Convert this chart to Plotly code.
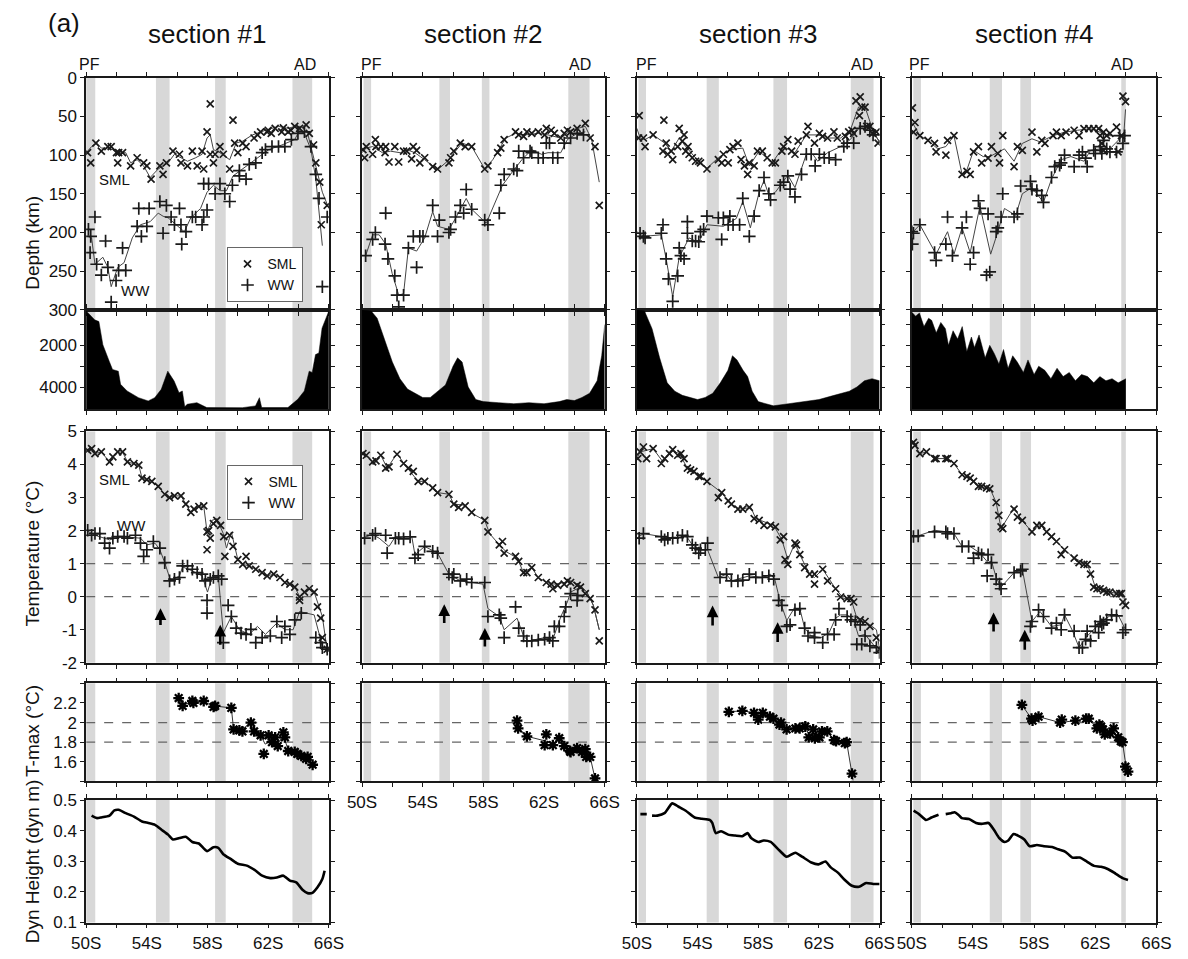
import plotly.graph_objects as go

# ---------------- axis ticks / labels ----------------
LAT_TICKS = [50, 52, 54, 56, 58, 60, 62, 64, 66]
LAT_LABELS = ['50S', '', '54S', '', '58S', '', '62S', '', '66S']
DEPTH_TICKS = [0, 50, 100, 150, 200, 250, 300]
BATHY_TICKS = [1000, 2000, 3000, 4000]
BATHY_LABELS = ['', '2000', '', '4000']
TEMP_TICKS = [-2, -1, 0, 1, 2, 3, 4, 5]
TMAX_TICKS = [1.4, 1.6, 1.8, 2.0, 2.2, 2.4]
TMAX_LABELS = ['', '1.6', '1.8', '2', '2.2', '']
DYN_TICKS = [0.1, 0.2, 0.3, 0.4, 0.5]
TEMP_REF = [0, 1]
TMAX_REF = [1.8, 2.0]
SECTION_TITLES = ['section #1', 'section #2', 'section #3', 'section #4']
ROW_TITLES = ['Depth (km)', 'Temperature (°C)', 'T-max (°C)', 'Dyn Height (dyn m)']

# ---------------- section 1 ----------------
s1_bands = [(50.0, 50.6), (54.6, 55.5), (58.5, 59.2), (63.6, 64.9)]
s1_pf_lat, s1_ad_lat = 50.25, 64.4
s1_sml_lat = [50.09,50.3,50.64,51.0,51.43,51.65,52.0,52.14,52.4,52.08,52.93,53.36,53.79,54.0,54.28,54.86,55.07,55.29,55.72,56.15,56.25,56.68,57.0,57.32,57.64,57.75,57.97,58.18,58.18,58.39,58.5,58.82,59.04,59.46,59.68,59.79,60.0,60.32,60.54,61.07,61.5,61.93,62.46,62.89,63.32,63.75,64.07,64.5,64.71,64.99,65.14,65.4,65.5,65.89,61.3,62.0,62.2,63.0,63.5]
s1_sml_depth = [97,110,84.5,95,89,89,97,97,97,110,114,103.5,110,114,131,114,125,110,95,99,110,114,95,114,95,118,70,34,99,110,99,89,99,118,55,84.5,97,84.5,89,78,70,70,65.5,70,70,63,65.5,61,72,87,110,135,190,165,74,68,72,65,68]
s1_sml_fit_lat = [50.0,50.36,50.69,51.0,51.43,51.76,52.18,52.61,52.93,53.36,53.79,54.22,54.75,55.4,55.82,56.25,56.68,57.22,57.64,57.97,58.18,58.39,58.82,59.46,59.89,60.32,60.96,61.82,62.68,63.32,63.75,64.18,64.6,65.03,65.57,66.0]
s1_sml_fit_depth = [97,89,84.5,91,91,93,97,97,110,106,114,129,118,110,99,103.5,108,103.5,99,78,74,93,97,106,84.5,82,74,68,63,65.5,63,63,72,106,148,169]
s1_ww_lat = [50.15,50.3,50.58,50.26,50.69,51.28,51.0,51.43,51.65,51.97,52.14,52.4,52.61,53.47,53.64,53.36,54.0,54.15,54.86,55.29,55.07,55.6,55.82,56.25,56.15,56.3,56.58,57.0,57.22,57.64,57.75,57.97,57.75,58.07,58.5,58.82,59.14,59.46,59.64,60.1,60.1,60.54,60.75,61.18,61.6,61.82,62.25,62.68,63.1,63.53,63.96,64.39,64.82,65.14,65.35,65.57,65.89]
s1_ww_depth = [196,205,180,226,241,211,255,245,290,262,249,220,249,169,205,192,192,169,160,165,201,180,190,190,169,215,199,180,180,190,180,171,137,137,150,137,150,160,139,127,120,131,112,110,97,93,89,89,89,80,72,70,89,125,156,270,180]
s1_ww_fit_lat = [50.09,50.36,50.58,51.1,51.43,51.65,52.08,52.5,53.04,53.58,54.22,54.75,55.07,55.4,55.93,56.47,56.9,57.54,57.97,58.39,58.82,59.25,59.68,60.32,61.18,62.04,62.9,63.75,64.07,64.39,64.82,65.14,65.57]
s1_ww_fit_depth = [205,207,241,232,245,270,245,239,207,190,186,175,179,181,190,199,181,169,148,139,146,146,127,118,106,93,87,80,68,72,93,131,217]
s1_bathy_lat = [50.0,50.56,50.84,51.1,51.52,51.74,52.12,52.27,52.7,53.45,54.09,54.52,54.95,55.38,55.8,56.12,56.34,56.5,56.66,57.3,57.95,60.3,61.16,61.42,61.57,63.3,63.95,64.38,64.7,64.9,65.12,65.34,65.55,65.87,66.0]
s1_bathy_depth = [350,776,857,1968,2762,3160,3238,3871,4190,4510,4667,4510,4111,3238,3714,4270,4190,4950,4825,4750,4985,4990,4905,4510,4985,4985,4587,4190,3238,3300,2444,2365,1175,540,350]
s1_tsml_lat = [50.1,50.36,50.58,51.0,51.54,51.76,52.08,52.4,52.72,53.15,53.47,53.68,54.0,54.33,54.75,55.18,55.5,55.82,56.25,56.57,56.9,57.11,57.43,57.75,57.97,58.07,58.39,58.61,58.86,59.07,59.46,59.68,60.0,60.32,60.75,61.18,61.6,61.93,62.36,62.78,63.1,63.43,63.75,64.07,64.39,64.71,65.03,65.25,65.46,65.57,65.89,57.97,58.18,59.14,60.54,64.07]
s1_tsml_temp = [4.43,4.48,4.33,4.38,4.08,4.23,4.38,4.38,4.08,4.03,3.98,3.59,3.54,3.49,3.34,3.1,3.0,3.05,3.05,2.8,2.55,2.65,2.73,2.75,1.96,2.0,2.21,2.31,2.16,1.82,1.86,1.52,1.12,0.98,0.93,0.83,0.73,0.63,0.68,0.58,0.43,0.38,0.29,-0.01,0.14,0.24,0.14,-0.31,-0.65,-1.24,-1.59,1.42,1.77,1.22,1.22,-0.11]
s1_tsml_fit_lat = [50.0,50.36,50.58,51.0,51.54,51.76,52.08,52.4,52.72,53.15,53.47,53.68,54.0,54.33,54.75,55.18,55.5,55.82,56.25,56.57,56.9,57.11,57.43,57.75,57.97,58.29,58.61,59.04,59.25,59.57,60.0,60.32,60.75,61.18,61.6,61.93,62.36,62.78,63.1,63.43,63.75,64.07,64.39,64.71,65.03,65.57,65.89]
s1_tsml_fit_temp = [4.43,4.48,4.33,4.38,4.08,4.23,4.38,4.38,4.08,4.03,3.98,3.59,3.54,3.49,3.34,3.1,3.0,3.05,3.05,2.8,2.55,2.65,2.73,2.75,1.96,2.31,2.36,1.91,1.47,1.96,1.12,0.98,0.93,0.83,0.73,0.63,0.68,0.58,0.43,0.38,0.29,0.01,0.14,0.24,0.14,-0.6,-1.64]
s1_tww_lat = [50.1,50.36,50.58,50.9,51.22,51.54,51.76,52.08,52.5,52.72,53.25,53.58,53.79,54.0,54.43,54.86,55.18,55.5,55.82,56.15,56.36,56.68,57.0,57.32,57.64,57.86,57.97,57.97,58.18,58.39,58.71,58.93,59.04,59.36,59.57,59.89,60.21,60.54,60.86,61.18,61.6,62.14,62.57,62.89,63.1,63.43,63.75,64.18,65.14,65.46,65.57,65.89]
s1_tww_temp = [2.01,1.86,1.91,1.91,1.62,1.47,1.77,1.82,1.82,1.77,1.86,1.62,1.22,1.42,1.67,1.47,1.03,0.48,0.53,0.58,0.93,0.93,0.83,0.73,0.68,0.48,-0.11,-0.5,0.53,0.58,0.63,0.53,-1.39,-0.26,-0.6,-0.95,-1.1,-1.14,-0.99,-1.39,-1.24,-1.19,-0.75,-1.24,-0.9,-1.14,-0.7,-0.5,-1.24,-1.39,-1.54,-1.59]
s1_tww_fit_lat = [50.0,50.58,51.54,52.4,53.58,54.0,54.54,54.86,55.18,55.57,56.15,56.36,57.0,57.64,58.0,58.29,58.71,59.04,59.57,60.1,60.75,61.29,61.82,62.57,63.1,63.64,64.07,65.03,65.57,65.89]
s1_tww_fit_temp = [2.01,1.86,1.72,1.82,1.77,1.57,1.62,1.42,1.03,0.48,0.63,0.9,0.78,0.63,0.14,0.58,0.63,-1.09,-0.6,-1.0,-1.14,-0.9,-1.14,-0.8,-1.0,-1.0,-0.45,-0.55,-1.5,-1.7]
s1_arrow_lat = [54.9, 58.84]
s1_arrow_base = [-0.9, -1.5]
s1_arrow_tip = [-0.35, -0.85]
s1_tmax_lat = [56.1,56.36,57.0,57.07,57.75,58.4,58.5,59.57,59.72,60.1,60.3,60.86,61.07,61.5,61.71,62.03,62.25,62.46,62.63,63.0,63.1,63.32,63.75,63.92,64.18,64.5,64.6,64.93]
s1_tmax_val = [2.25,2.17,2.22,2.2,2.22,2.16,2.17,2.15,1.93,1.92,1.91,2.0,1.91,1.87,1.68,1.87,1.8,1.85,1.76,1.9,1.85,1.71,1.7,1.68,1.66,1.63,1.65,1.57]
s1_tmax_fit_lat = [56.1,56.36,57.0,57.75,58.4,59.57,59.72,60.1,60.86,61.07,61.5,61.8,62.25,62.63,63.0,63.32,63.75,64.18,64.6,64.93]
s1_tmax_fit_val = [2.25,2.18,2.21,2.21,2.17,2.15,1.93,1.92,1.99,1.91,1.87,1.78,1.82,1.78,1.87,1.72,1.70,1.66,1.64,1.57]
s1_dyn_lat = [50.36,50.69,51.0,51.54,51.86,52.14,52.61,53.15,53.68,54.1,54.54,54.97,55.4,55.72,56.15,56.57,57.0,57.43,57.97,58.39,58.71,59.04,59.57,60.0,60.64,61.18,61.6,62.14,62.57,63.0,63.43,63.85,64.28,64.6,64.92,65.25,65.57,65.72]
s1_dyn_val = [0.449,0.441,0.443,0.449,0.466,0.468,0.457,0.446,0.43,0.425,0.419,0.403,0.387,0.371,0.376,0.38,0.363,0.358,0.333,0.346,0.344,0.323,0.306,0.292,0.285,0.269,0.253,0.245,0.247,0.253,0.237,0.231,0.206,0.196,0.197,0.215,0.242,0.269]

# ---------------- section 2 ----------------
s2_bands = [(50.1, 50.6), (55.1, 55.8), (57.9, 58.4), (63.6, 65.0)]
s2_pf_lat, s2_ad_lat = 50.6, 64.4
s2_sml_lat = [50.06,50.17,50.28,50.7,50.88,50.92,51.24,51.56,51.52,51.78,52.16,52.42,52.74,52.95,53.27,53.38,53.6,53.81,54.13,54.66,54.98,55.73,55.84,56.05,56.48,56.8,57.23,58.09,58.3,58.94,59.15,59.37,60.12,60.33,60.65,60.87,61.19,61.62,62.15,62.47,62.68,62.04,63.1,63.33,63.54,63.75,64.18,64.72,65.04,65.36,65.64]
s2_sml_depth = [93,103.5,89,99,80,89,89,89,97,109,89,109,95,95,105,89,94,110,103.5,115,118,110,103.5,95,84.5,89,89,118,114,97,91,80,70,74,76,70,72,70,65.5,68,72,74,78,72,68,70,65.5,59,78,89,165]
s2_sml_fit_lat = [50.0,50.28,50.7,51.35,51.88,52.52,52.95,53.49,54.13,54.98,55.63,56.59,57.23,58.09,58.62,59.48,60.12,60.76,61.62,62.26,63.1,63.75,64.72,65.14,65.64]
s2_sml_fit_depth = [97,91,89,97,95,97,93,97,106,119,108,84.5,89,118,106,78,72,74,72,74,78,68,63,80,135]
s2_ww_lat = [50.24,50.7,50.88,51.56,51.52,51.71,52.16,52.31,52.74,52.42,53.06,53.38,53.6,53.81,54.02,54.66,54.98,55.09,55.73,55.84,56.16,56.48,56.7,56.87,57.23,58.09,58.3,59.05,59.15,59.37,60.0,60.22,60.65,60.33,61.08,61.19,61.62,61.94,62.15,62.36,62.58,62.9,63.33,63.75,64.18,64.6]
s2_ww_depth = [230,209,200,175,215,234,256,281,281,296,220,205,245,205,205,165,205,184,200,196,180,165,175,144.5,170,184,190,175,139,125,118,120,103.5,95,95,97,103.5,103.5,84.5,84.5,103.5,103.5,84.5,78,72,74]
s2_ww_fit_lat = [50.24,50.7,51.13,51.56,51.99,52.42,52.74,53.06,53.6,54.13,54.66,54.98,55.73,56.16,56.87,57.23,58.19,58.83,59.26,59.9,60.54,61.19,61.83,62.26,62.58,63.1,63.54,64.18,64.72]
s2_ww_fit_depth = [230,203,203,215,253,281,279,220,224,207,173,192,196,182,156,170,188,160,139,122,106,93,99,97,97,97,80,72,70]
s2_bathy_lat = [50.0,50.6,51.0,51.5,52.0,52.5,53.0,53.5,54.0,54.5,55.0,55.5,56.0,56.3,56.6,57.0,57.5,58.0,59.0,60.0,61.0,62.0,63.0,63.5,64.0,64.5,65.0,65.5,65.8,66.0]
s2_bathy_depth = [300,350,700,1700,2800,3600,4100,4300,4500,4500,4200,3900,3000,2600,2800,4000,4600,4700,4750,4800,4750,4800,4700,4600,4650,4500,4300,3700,2500,1000]
s2_tsml_lat = [50.06,50.28,50.7,50.92,51.24,51.56,51.78,52.31,52.74,53.06,53.38,53.7,54.13,54.66,54.98,55.73,56.05,56.37,56.8,57.23,58.09,58.3,59.05,59.26,59.37,60.12,60.33,60.65,60.87,61.19,61.62,62.15,62.47,62.58,62.9,63.33,63.54,63.75,64.18,64.4,64.72,65.04,65.36,65.64]
s2_tsml_temp = [4.33,4.28,4.08,4.11,4.28,3.89,3.93,4.31,4.03,3.89,3.79,3.49,3.49,3.29,3.15,3.1,2.8,2.7,2.75,2.55,2.31,1.96,1.57,1.67,1.32,1.22,1.07,0.73,0.73,0.88,0.58,0.43,0.38,0.24,0.34,0.38,0.48,0.43,0.34,0.29,0.09,-0.06,-0.4,-1.34]
s2_tsml_fit_lat = [50.0,50.28,50.7,51.24,51.66,52.31,52.84,53.7,54.13,54.98,55.73,56.05,56.8,57.34,58.09,58.41,59.05,59.48,60.22,60.65,61.19,61.62,62.15,62.68,63.33,63.75,64.4,64.82,65.25,65.64]
s2_tsml_fit_temp = [4.33,4.28,4.08,4.28,3.89,4.33,3.98,3.49,3.49,3.15,3.1,2.8,2.77,2.5,2.31,1.91,1.57,1.37,1.17,0.73,0.88,0.58,0.43,0.38,0.43,0.48,0.34,0.14,-0.26,-1.0]
s2_tww_lat = [50.17,50.7,50.88,51.56,51.66,52.2,52.42,52.74,53.17,53.49,53.7,54.13,54.66,54.98,55.73,55.95,56.05,56.48,56.9,57.23,58.09,58.3,59.05,59.15,59.37,60.12,60.33,60.65,60.87,61.19,61.62,62.04,62.36,62.58,62.68,63.0,63.33,63.43,63.75,64.18,64.22]
s2_tww_temp = [1.77,1.86,1.91,1.86,1.32,1.77,1.77,1.75,1.81,1.17,1.27,1.52,1.37,1.32,0.68,0.58,0.68,0.48,0.53,0.43,0.43,-0.6,-0.55,-0.65,-1.24,-0.31,-0.95,-1.19,-1.34,-1.34,-1.31,-1.29,-1.24,-1.34,-0.9,-0.9,-0.6,-0.31,0.09,-0.11,0.04]
s2_tww_fit_lat = [50.0,50.7,51.13,51.78,52.2,53.28,53.49,54.13,54.98,55.73,56.48,57.34,57.98,58.3,59.05,59.37,60.22,60.65,60.97,62.04,62.58,63.11,63.54,63.75,64.4,64.82,65.25,65.64]
s2_tww_fit_temp = [1.77,1.88,1.77,1.52,1.82,1.82,1.27,1.52,1.32,0.68,0.48,0.43,0.38,-0.36,-0.6,-1.0,-0.65,-1.19,-1.34,-1.24,-1.29,-0.6,-0.16,0.14,0.29,0.14,-0.26,-1.0]
s2_arrow_lat = [55.42, 58.1]
s2_arrow_base = [-0.84, -1.55]
s2_arrow_tip = [-0.23, -0.95]
s2_tmax_lat = [60.22,60.29,60.87,62.04,62.15,62.58,63.0,63.33,63.71,63.75,64.18,64.5,64.72,64.78,65.04,65.36]
s2_tmax_val = [2.02,1.94,1.86,1.77,1.88,1.77,1.84,1.76,1.71,1.70,1.74,1.70,1.73,1.65,1.65,1.43]
s2_tmax_fit_lat = [60.22,60.29,60.87,62.15,62.58,63.0,63.33,63.75,64.18,64.5,64.72,65.04,65.36]
s2_tmax_fit_val = [2.02,1.94,1.86,1.81,1.78,1.84,1.76,1.70,1.73,1.70,1.72,1.65,1.43]
s2_dyn_lat = []
s2_dyn_val = []

# ---------------- section 3 ----------------
s3_bands = [(50.1, 50.6), (54.6, 55.4), (59.0, 59.9), (64.1, 65.6)]
s3_pf_lat, s3_ad_lat = 50.63, 64.85
s3_sml_lat = [50.15,50.11,50.43,50.54,51.07,51.78,51.72,51.93,52.04,52.26,52.36,52.69,52.79,53.0,53.11,53.22,53.37,53.44,53.65,53.87,54.08,54.19,54.62,55.37,55.59,55.7,56.02,56.13,56.34,56.66,56.87,57.09,57.3,57.41,57.73,57.95,58.27,58.59,58.92,59.13,59.56,59.67,59.95,60.2,60.42,60.63,61.17,61.28,61.71,62.03,62.24,62.57,62.99,63.21,63.75,63.96,64.18,64.29,64.44,64.72,64.67,64.82,65.04,65.15,65.36,65.53,65.79,65.9]
s3_sml_depth = [49,78,78,89,74,55,95,84.5,99,95,106,89,65.5,82,74,95,89,99,103.5,108,108,110,118,106,110,99,110,93,89,84.5,106,114,125,110,114,95,95,103.5,110,110,95,89,80,95,99,82,74,63,84.5,72,76,78,70,78,76,70,68,72,30,25,49,38,38,63,63,72,70,84.5]
s3_sml_fit_lat = [50.0,50.21,50.54,51.07,51.83,52.26,52.79,53.22,53.97,54.62,55.37,56.13,56.98,57.41,58.06,58.92,59.67,60.42,61.17,61.92,62.67,63.43,64.07,64.61,65.04,65.47,66.0]
s3_sml_fit_depth = [65.5,78,80,74,84.5,95,78,89,106,117,103.5,93,91,114,95,110,89,97,74,74,78,78,68,38,38,63,84.5]
s3_ww_lat = [50.21,50.43,50.54,51.72,51.61,51.93,52.08,52.36,52.69,52.79,52.9,53.11,53.33,53.33,53.65,53.87,54.08,54.19,54.4,54.62,55.37,55.59,55.7,56.13,56.02,56.34,56.77,56.98,57.41,57.73,58.06,58.38,58.7,58.81,59.45,59.67,59.95,60.1,60.42,60.85,61.17,61.49,61.75,62.03,62.35,62.67,63.1,63.64,63.86,64.29,64.72,65.04,65.36,65.57]
s3_ww_depth = [201,205,207,190,201,234,260,289,256,220,230,234,186,201,211,211,212,199,196,179,181,209,181,179,190,190,190,156,205,179,146,129,150,158,139,135,127,144,154,125,99,99,114,99,103.5,103.5,106,89,84.5,84.5,65.5,63,68,74]
s3_ww_fit_lat = [50.0,50.43,51.61,51.93,52.36,52.79,53.44,54.08,54.62,55.7,56.55,56.98,57.48,58.06,58.38,58.7,59.13,59.95,60.42,61.17,61.6,61.92,62.57,63.43,64.07,64.72,65.15,65.58,66.0]
s3_ww_fit_depth = [199,205,203,234,283,232,207,213,190,192,182,160,194,148,133,152,148,126,142,99,99,108,97,89,80,63,63,72,82]
s3_bathy_lat = [50.0,50.5,51.0,51.5,52.0,52.5,53.0,53.5,54.0,54.5,55.0,55.5,56.0,56.3,56.6,57.0,57.3,57.6,58.0,58.5,59.0,60.0,61.0,62.0,63.0,64.0,64.5,65.0,65.5,66.0]
s3_bathy_depth = [300,350,1200,2600,3800,4200,4400,4500,4600,4500,4300,3800,3200,2500,2700,3200,3500,4200,4700,4800,4900,4800,4700,4600,4400,4200,4000,3700,3600,3700]
s3_tsml_lat = [50.06,50.21,50.43,50.64,51.07,51.61,51.83,52.15,52.36,52.69,52.9,53.11,53.33,53.54,53.76,54.08,54.19,54.62,55.37,55.59,56.02,56.23,56.66,56.98,57.41,57.73,58.06,58.38,58.81,59.13,59.45,59.67,59.77,59.95,60.42,60.52,60.74,61.06,61.39,61.71,61.71,62.25,62.57,63.1,63.43,63.86,64.11,64.29,64.72,65.04,65.36,65.79,66.0]
s3_tsml_temp = [4.18,4.38,4.53,4.18,4.48,4.03,4.18,4.33,4.45,4.28,4.33,4.18,3.89,3.84,3.79,3.64,3.64,3.49,3.0,3.15,2.9,2.8,2.65,2.65,2.7,2.36,2.31,2.16,2.16,2.11,1.72,1.82,1.12,0.98,1.62,1.57,1.27,0.88,0.68,0.68,0.38,0.83,0.48,0.24,-0.01,-0.06,-0.06,-0.16,-0.7,-0.75,-0.9,-1.24,-1.59]
s3_tsml_fit_lat = [50.0,50.21,51.07,51.72,52.26,52.79,53.33,54.19,54.62,55.59,56.23,56.77,57.52,57.84,59.02,59.56,59.95,60.42,60.85,61.39,61.71,62.25,63.1,63.64,64.11,64.5,65.36,65.79,66.0]
s3_tsml_fit_temp = [4.18,4.38,4.48,4.08,4.43,4.33,3.89,3.64,3.49,3.15,2.8,2.65,2.7,2.36,2.16,1.72,1.12,1.62,1.17,0.68,0.58,0.83,0.24,-0.06,-0.06,-0.65,-0.85,-1.0,-1.59]
s3_tww_lat = [50.15,50.43,51.61,51.83,52.04,52.36,52.69,53.0,53.33,53.65,53.87,54.08,54.19,54.51,54.66,55.48,55.91,56.23,56.66,56.98,57.41,57.84,58.27,58.7,59.02,59.34,59.56,59.88,60.1,60.42,60.74,61.06,61.28,61.71,61.71,62.25,62.57,63.0,63.1,63.32,63.86,64.11,64.4,64.72,64.5,64.82,65.04,65.36,65.79,66.0]
s3_tww_temp = [1.77,1.91,1.82,1.72,1.77,1.77,1.79,1.86,1.82,1.57,1.47,1.32,1.42,1.42,1.62,0.58,0.68,0.48,0.48,0.5,0.68,0.58,0.58,0.63,0.53,-0.11,-0.26,-0.9,-0.85,-0.4,-0.36,-0.95,-1.19,-1.09,-1.24,-1.39,-1.14,-1.14,-0.7,-0.36,-0.6,-0.7,-0.75,-0.85,-1.44,-1.44,-1.19,-1.49,-1.54,-1.69]
s3_tww_fit_lat = [50.0,50.43,51.61,52.58,53.22,53.65,54.19,54.66,55.37,55.91,56.23,57.41,58.27,58.81,59.09,59.45,59.88,60.31,60.74,61.06,61.49,62.14,62.67,63.1,63.43,63.86,64.29,64.61,65.04,65.47,66.0]
s3_tww_fit_temp = [1.77,1.91,1.82,1.77,1.86,1.57,1.42,1.42,0.58,0.68,0.48,0.63,0.58,0.68,0.53,-0.16,-0.72,-0.4,-0.36,-0.95,-1.19,-1.24,-1.09,-0.65,-0.55,-0.55,-0.7,-1.19,-1.14,-1.39,-1.69]
s3_arrow_lat = [54.99, 59.28]
s3_arrow_base = [-0.92, -1.42]
s3_arrow_tip = [-0.27, -0.77]
s3_tmax_lat = [56.06,56.95,57.72,58.0,58.3,58.77,59.0,59.4,59.5,59.87,60.45,60.73,61.1,61.33,61.62,61.73,62.03,62.2,62.55,63.0,63.13,63.71,63.83,64.18]
s3_tmax_val = [2.11,2.12,2.1,2.03,2.1,2.06,2.04,1.98,2.0,1.93,1.94,1.94,1.96,1.85,1.93,1.84,1.85,1.91,1.91,1.82,1.81,1.79,1.8,1.48]
s3_tmax_fit_lat = [56.06,56.95,57.72,58.1,58.77,59.4,59.87,60.73,61.1,61.33,61.73,62.2,62.55,63.0,63.83,64.25]
s3_tmax_fit_val = [2.11,2.12,2.1,2.07,2.06,1.98,1.93,1.94,1.96,1.88,1.87,1.91,1.91,1.82,1.8,1.41]
s3_dyn_lat = [50.23,50.65,None,51.0,51.35,51.82,52.33,52.75,53.22,53.8,54.27,54.8,54.97,55.2,55.55,56.02,56.48,56.95,57.3,57.53,58.0,58.35,58.82,59.4,59.87,60.45,60.92,61.5,61.97,62.43,62.78,63.25,63.71,64.18,64.65,65.11,65.58,66.0]
s3_dyn_val = [0.454,0.454,None,0.449,0.449,0.457,0.489,0.478,0.465,0.443,0.439,0.435,0.425,0.392,0.398,0.387,0.384,0.382,0.392,0.376,0.363,0.368,0.363,0.335,0.315,0.328,0.314,0.296,0.29,0.299,0.28,0.263,0.239,0.22,0.217,0.229,0.226,0.226]

# ---------------- section 4 ----------------
s4_bands = [(50.1, 50.6), (55.1, 55.9), (57.1, 57.8), (63.7, 64.0)]
s4_pf_lat, s4_ad_lat = 50.5, 63.77
s4_sml_lat = [50.04,50.21,50.11,50.53,51.06,51.49,51.59,52.23,52.34,52.76,53.29,53.61,53.82,54.04,54.36,54.57,54.99,55.21,55.63,55.74,55.95,56.69,56.91,57.23,57.86,58.18,58.5,58.71,59.24,59.46,59.77,60.09,60.62,60.94,61.26,61.58,61.9,62.22,62.32,62.54,62.75,62.43,62.54,62.96,63.39,63.49,63.71,63.81,63.98]
s4_sml_depth = [39,58,70.5,75,81,85,96,100,81,75,125,121,125,96,89,110,104,89,98,110,75,115,89,94,70.5,96,81,85,75,70.5,75,70.5,68,75,66,66,66,66,75,70.5,75,85,94,72,64,96,75,24,31]
s4_sml_fit_lat = [50.04,50.53,51.06,51.7,52.23,52.76,53.29,53.61,54.04,54.67,55.1,55.52,56.06,56.69,57.23,57.86,58.39,59.24,59.99,60.83,61.69,62.32,62.75,63.39,63.86,63.98]
s4_sml_fit_depth = [58,75,81,92,89,75,125,119,94,102,102,98,92,108,85,79,83,75,70.5,68,66,70.5,75,75,75,41]
s4_ww_lat = [50.0,50.11,50.04,50.53,51.49,51.59,52.34,52.23,52.66,53.29,53.57,53.82,54.04,54.36,54.46,54.99,54.89,55.1,55.52,55.63,55.84,55.95,56.69,56.91,57.12,57.76,57.86,58.18,58.5,58.61,59.14,59.35,59.67,59.77,59.99,60.62,60.94,61.16,61.37,61.47,61.9,62.0,62.32,62.43,62.54,62.75,62.96,63.39,63.6,63.81,63.92]
s4_ww_depth = [199,201,215,190,226,236,180,215,230,194,180,241,226,159,169,176,255,251,199,194,180,150,180,176,140,134,144,146,152,161,129,115,113,110,100,115,100,96,104,115,94,98,89,98,81,92,96,96,75,85,75]
s4_ww_fit_lat = [50.0,50.53,51.59,52.34,52.76,53.29,53.82,54.46,55.16,55.63,56.06,56.8,57.23,57.86,58.61,59.14,59.77,60.41,61.26,61.69,62.32,62.96,63.6,63.86]
s4_ww_fit_depth = [201,190,228,199,228,194,226,166,228,199,169,178,150,142,161,131,106,102,108,94,92,92,79,75]
s4_bathy_lat = [50.0,50.25,50.5,50.8,51.1,51.3,51.6,51.9,52.2,52.4,52.7,53.0,53.3,53.6,53.9,54.1,54.4,54.8,55.1,55.4,55.7,56.0,56.3,56.6,56.9,57.3,57.6,58.0,58.3,58.7,59.1,59.5,59.9,60.3,60.7,61.1,61.5,61.9,62.3,62.7,63.1,63.5,64.0]
s4_bathy_depth = [400,600,450,1100,700,800,1400,900,1200,2000,1300,1700,1100,2300,1600,2100,1500,2600,2000,2400,2900,2200,3100,2500,2800,3300,2700,3400,3000,3200,3600,3100,3500,3300,3700,3400,3500,3800,3500,3700,3600,3800,3600]
s4_tsml_lat = [50.11,50.21,50.53,50.96,51.49,51.59,52.23,52.34,52.76,53.29,53.61,53.82,54.04,54.36,54.57,54.89,55.1,55.52,55.69,55.84,55.95,56.69,56.91,57.23,57.86,58.18,58.5,58.82,59.14,59.46,59.77,59.99,60.62,60.94,61.26,61.47,61.69,61.9,62.11,62.32,62.54,62.75,62.96,63.39,63.6,63.71,63.81,63.98]
s4_tsml_temp = [4.67,4.58,4.33,4.38,4.18,4.18,4.18,4.18,4.03,3.69,3.64,3.59,3.49,3.34,3.34,3.29,3.26,2.85,2.46,2.11,2.06,2.65,2.41,2.31,1.96,2.16,2.16,1.96,1.82,1.67,1.27,1.42,1.17,1.03,0.98,0.98,0.68,0.29,0.24,0.24,0.19,0.14,0.14,0.09,0.09,0.09,-0.16,-0.26]
s4_tsml_fit_lat = [50.0,50.21,50.53,50.96,51.49,52.34,52.76,53.29,54.04,54.36,55.1,55.52,55.84,56.69,57.12,57.86,58.39,58.82,59.46,59.99,60.62,61.47,61.69,62.0,63.39,63.81,63.98]
s4_tsml_fit_temp = [4.67,4.58,4.33,4.38,4.18,4.18,4.03,3.69,3.49,3.34,3.29,2.85,2.06,2.7,2.36,1.96,2.18,1.96,1.67,1.42,1.17,0.98,0.73,0.29,0.09,0.09,-0.21]
s4_tww_lat = [50.11,50.42,51.49,52.23,52.34,52.76,53.29,53.72,54.04,54.36,54.57,54.99,54.93,55.21,55.52,55.74,55.84,56.69,57.12,57.23,57.76,57.86,58.29,58.61,59.14,59.46,59.77,59.99,60.62,60.94,61.16,61.37,61.47,61.69,62.0,62.22,62.32,62.43,62.54,62.75,63.07,63.39,63.81,63.98]
s4_tww_temp = [1.82,1.84,1.96,1.96,1.91,1.91,1.52,1.52,1.17,1.32,1.27,1.27,0.63,1.03,0.53,0.38,0.24,0.73,0.78,0.83,-0.9,-0.75,-0.4,-0.6,-0.95,-0.8,-1.0,-0.55,-1.04,-1.54,-1.54,-1.29,-1.04,-1.34,-0.9,-1.09,-0.75,-0.85,-0.8,-0.7,-0.55,-0.58,-1.09,-1.0]
s4_tww_fit_lat = [50.0,50.53,51.49,52.34,52.76,53.29,53.82,54.46,54.99,55.21,55.52,55.84,56.69,57.23,57.86,58.39,59.14,59.77,59.99,60.52,60.94,61.47,62.0,62.54,63.07,63.49,63.98]
s4_tww_fit_temp = [1.82,1.86,2.01,1.96,1.91,1.52,1.52,1.32,1.03,1.08,0.58,0.29,0.73,0.83,-0.75,-0.45,-0.9,-0.85,-0.55,-1.04,-1.54,-1.19,-0.95,-0.7,-0.55,-0.55,-1.0]
s4_arrow_lat = [55.35, 57.39]
s4_arrow_base = [-1.1, -1.65]
s4_arrow_tip = [-0.48, -1.0]
s4_tmax_lat = [57.2,57.83,57.9,58.29,59.7,59.81,60.7,61.4,61.57,62.1,62.27,62.38,62.5,62.62,62.97,63.2,63.5,63.67,63.78,63.97,64.14]
s4_tmax_val = [2.18,2.04,2.02,2.06,2.0,2.03,2.02,2.04,2.04,1.94,1.98,1.96,1.93,1.88,1.89,1.94,1.85,1.81,1.8,1.55,1.5]
s4_tmax_fit_lat = [57.2,57.83,58.29,59.7,60.7,61.45,62.1,62.5,62.62,63.2,63.5,63.78,63.95,64.14]
s4_tmax_fit_val = [2.18,2.04,2.06,2.0,2.02,2.04,1.96,1.94,1.89,1.91,1.85,1.8,1.62,1.5]
s4_dyn_lat = [50.12,50.47,50.93,51.29,51.75,None,52.22,52.57,52.8,53.04,53.27,53.74,54.21,54.56,55.02,55.37,55.72,56.07,56.31,56.66,57.01,57.36,57.71,58.18,58.64,59.23,59.58,60.05,60.51,60.98,61.45,61.92,62.38,62.85,63.32,63.79,64.14]
s4_dyn_val = [0.465,0.454,0.435,0.443,0.452,None,0.454,0.457,0.46,0.452,0.441,0.438,0.425,0.422,0.425,0.403,0.376,0.363,0.368,0.389,0.382,0.371,0.349,0.353,0.349,0.346,0.339,0.331,0.312,0.312,0.299,0.285,0.282,0.274,0.26,0.245,0.239]

# reference dashed lines end (section 4 stops at its last station)
DASH_END = [66, 66, 66, 64.1]

# ---------------- assemble ----------------
def pack(p):
    g = globals()
    keys = ['bands', 'pf_lat', 'ad_lat', 'sml_lat', 'sml_depth', 'sml_fit_lat', 'sml_fit_depth',
            'ww_lat', 'ww_depth', 'ww_fit_lat', 'ww_fit_depth', 'bathy_lat', 'bathy_depth',
            'tsml_lat', 'tsml_temp', 'tsml_fit_lat', 'tsml_fit_temp', 'tww_lat', 'tww_temp',
            'tww_fit_lat', 'tww_fit_temp', 'arrow_lat', 'arrow_base', 'arrow_tip',
            'tmax_lat', 'tmax_val', 'tmax_fit_lat', 'tmax_fit_val', 'dyn_lat', 'dyn_val']
    return {k: g[p + '_' + k] for k in keys}

SECTIONS = [pack('s1'), pack('s2'), pack('s3'), pack('s4')]

FONT = 'Liberation Sans, Arial, Helvetica, sans-serif'
W, H = 1188, 959
COL_PX = [(73, 322), (356, 605), (638, 887), (920, 1171)]
ROW_PX = [(70, 307), (307, 408), (431, 667), (688, 788), (807, 932)]
ROW_RANGE = [[300, 0], [5050, 300], [-2, 5], [1.4, 2.4], [0.1, 0.5]]
ROW_TICKS = [(DEPTH_TICKS, [str(v) for v in DEPTH_TICKS]), (BATHY_TICKS, BATHY_LABELS),
             (TEMP_TICKS, [str(v) for v in TEMP_TICKS]), (TMAX_TICKS, TMAX_LABELS),
             (DYN_TICKS, [str(v) for v in DYN_TICKS])]
XLABEL_ROW = [4, 3, 4, 4]
INK = '#1a1a1a'
BAND = '#d8d8d8'


def aid(r, c):
    return r * 4 + c + 1


def xr(n):
    return 'x' if n == 1 else f'x{n}'


def yr(n):
    return 'y' if n == 1 else f'y{n}'


def text_ann(text, x, y, xref, yref, size, angle=0):
    return dict(text=text, x=x, y=y, xref=xref, yref=yref, showarrow=False, textangle=angle,
                xanchor='center', yanchor='middle',
                font=dict(size=size, color='#111', family=FONT))


fig = go.Figure()
layout_axes = {}
shapes = []
annotations = []

common = dict(showline=True, mirror='ticks', linecolor=INK, linewidth=1.5, ticks='outside',
              ticklen=4, tickwidth=1.2, tickcolor=INK, showgrid=False, zeroline=False,
              tickfont=dict(size=17, color='#111', family=FONT), fixedrange=True)

SML_MK = dict(symbol='x-thin-open', size=7, color=INK, line=dict(color=INK, width=1.7))
WW_MK = dict(symbol='cross-thin-open', size=9, color=INK, line=dict(color=INK, width=1.7))

for c, sec in enumerate(SECTIONS):
    rows = [0, 1, 2, 3] + ([4] if sec['dyn_lat'] else [])
    for r in rows:
        n = aid(r, c)
        x0, x1 = COL_PX[c]
        y0, y1 = ROW_PX[r]
        tv, tt = ROW_TICKS[r]
        layout_axes['xaxis' if n == 1 else f'xaxis{n}'] = dict(
            domain=[x0 / W, x1 / W], range=[50, 66], anchor=yr(n), tickvals=LAT_TICKS,
            ticktext=LAT_LABELS, showticklabels=(r == XLABEL_ROW[c]), **common)
        layout_axes['yaxis' if n == 1 else f'yaxis{n}'] = dict(
            domain=[1 - y1 / H, 1 - y0 / H], range=ROW_RANGE[r], anchor=xr(n), tickvals=tv,
            ticktext=tt, showticklabels=(c == 0), **common)
        for (a, b) in sec['bands']:
            shapes.append(dict(type='rect', xref=xr(n), yref=yr(n) + ' domain', x0=a, x1=b,
                               y0=0, y1=1, fillcolor=BAND, line=dict(width=0), layer='below'))
        refs = TEMP_REF if r == 2 else (TMAX_REF if r == 3 else [])
        for v in refs:
            shapes.append(dict(type='line', xref=xr(n), yref=yr(n), x0=50, x1=DASH_END[c],
                               y0=v, y1=v, line=dict(color='#666', width=1.2, dash='dash'),
                               layer='below'))

    # --- depth row ---
    n = aid(0, c)
    fig.add_trace(go.Scatter(x=sec['sml_fit_lat'], y=sec['sml_fit_depth'], mode='lines',
                             line=dict(color='#444', width=1), xaxis=xr(n), yaxis=yr(n),
                             showlegend=False, hoverinfo='skip'))
    fig.add_trace(go.Scatter(x=sec['ww_fit_lat'], y=sec['ww_fit_depth'], mode='lines',
                             line=dict(color='#444', width=1), xaxis=xr(n), yaxis=yr(n),
                             showlegend=False, hoverinfo='skip'))
    fig.add_trace(go.Scatter(x=sec['sml_lat'], y=sec['sml_depth'], mode='markers', name='SML',
                             marker=SML_MK, xaxis=xr(n), yaxis=yr(n),
                             showlegend=(c == 0), legend='legend'))
    fig.add_trace(go.Scatter(x=sec['ww_lat'], y=sec['ww_depth'], mode='markers', name='WW',
                             marker=WW_MK, xaxis=xr(n), yaxis=yr(n),
                             showlegend=(c == 0), legend='legend'))

    # --- bathymetry row ---
    n = aid(1, c)
    fig.add_trace(go.Scatter(x=[sec['bathy_lat'][0], sec['bathy_lat'][-1]],
                             y=[ROW_RANGE[1][0], ROW_RANGE[1][0]], mode='lines',
                             line=dict(width=0, color='black'), xaxis=xr(n), yaxis=yr(n),
                             showlegend=False, hoverinfo='skip'))
    fig.add_trace(go.Scatter(x=sec['bathy_lat'], y=sec['bathy_depth'], mode='lines',
                             line=dict(width=0.5, color='black'), fill='tonexty',
                             fillcolor='black', xaxis=xr(n), yaxis=yr(n), showlegend=False))

    # --- temperature row ---
    n = aid(2, c)
    fig.add_trace(go.Scatter(x=sec['tsml_fit_lat'], y=sec['tsml_fit_temp'], mode='lines',
                             line=dict(color='#444', width=1), xaxis=xr(n), yaxis=yr(n),
                             showlegend=False, hoverinfo='skip'))
    fig.add_trace(go.Scatter(x=sec['tww_fit_lat'], y=sec['tww_fit_temp'], mode='lines',
                             line=dict(color='#444', width=1), xaxis=xr(n), yaxis=yr(n),
                             showlegend=False, hoverinfo='skip'))
    fig.add_trace(go.Scatter(x=sec['tsml_lat'], y=sec['tsml_temp'], mode='markers', name='SML',
                             marker=SML_MK, xaxis=xr(n), yaxis=yr(n),
                             showlegend=(c == 0), legend='legend2'))
    fig.add_trace(go.Scatter(x=sec['tww_lat'], y=sec['tww_temp'], mode='markers', name='WW',
                             marker=WW_MK, xaxis=xr(n), yaxis=yr(n),
                             showlegend=(c == 0), legend='legend2'))
    for lat, base, tip in zip(sec['arrow_lat'], sec['arrow_base'], sec['arrow_tip']):
        annotations.append(dict(x=lat, y=tip, ax=lat, ay=base, xref=xr(n), yref=yr(n),
                                axref=xr(n), ayref=yr(n), showarrow=True, arrowhead=2,
                                arrowsize=0.9, arrowwidth=2.6, arrowcolor='black', text=''))

    # --- T-max row ---
    n = aid(3, c)
    fig.add_trace(go.Scatter(x=sec['tmax_fit_lat'], y=sec['tmax_fit_val'], mode='lines',
                             line=dict(color='#333', width=1), xaxis=xr(n), yaxis=yr(n),
                             showlegend=False, hoverinfo='skip'))
    fig.add_trace(go.Scatter(x=sec['tmax_lat'], y=sec['tmax_val'], mode='markers',
                             marker=dict(symbol='asterisk-open', size=9, color='black',
                                         line=dict(color='black', width=2.3)),
                             xaxis=xr(n), yaxis=yr(n), showlegend=False))

    # --- dynamic height row ---
    if sec['dyn_lat']:
        n = aid(4, c)
        fig.add_trace(go.Scatter(x=sec['dyn_lat'], y=sec['dyn_val'], mode='lines',
                                 line=dict(color='black', width=2.6, shape='spline', smoothing=0.6),
                                 connectgaps=False, xaxis=xr(n), yaxis=yr(n), showlegend=False))

    # --- column labels ---
    cx = (COL_PX[c][0] + COL_PX[c][1]) / 2 / W
    annotations.append(text_ann(SECTION_TITLES[c], cx, 1 - 26 / H, 'paper', 'paper', 26))
    n = aid(0, c)
    for lab, lat in (('PF', sec['pf_lat']), ('AD', sec['ad_lat'])):
        annotations.append(text_ann(lab, lat, 1 - 57 / H, xr(n), 'paper', 16))

# in-panel labels (section 1)
for txt, lat, val, row in (('SML', 51.86, 131, 0), ('WW', 53.25, 275, 0),
                           ('SML', 51.86, 3.54, 2), ('WW', 52.96, 2.16, 2)):
    n = aid(row, 0)
    annotations.append(text_ann(txt, lat, val, xr(n), yr(n), 15))

# panel letter and row titles
annotations.append(text_ann('(a)', 50 / W, 1 - 14 / H, 'paper', 'paper', 26))
for txt, py in zip(ROW_TITLES, [239, 556, 737, 870]):
    annotations.append(text_ann(txt, 18 / W, 1 - py / H, 'paper', 'paper', 19, angle=-90))

legend_style = dict(xanchor='left', yanchor='top', bgcolor='white', bordercolor='#666',
                    borderwidth=1, font=dict(size=14, color='#111', family=FONT),
                    itemwidth=30, tracegroupgap=0, traceorder='normal')

fig.update_layout(
    width=W, height=H, margin=dict(l=0, r=0, t=0, b=0),
    paper_bgcolor='white', plot_bgcolor='white',
    font=dict(family=FONT, color='#111'),
    shapes=shapes, annotations=annotations,
    legend=dict(x=217 / W, y=1 - 243 / H, **legend_style),
    legend2=dict(x=218 / W, y=1 - 465 / H, **legend_style),
    **layout_axes,
)

fig.write_html('out.html', config={'displayModeBar': False},
               post_script="document.body.style.margin='0';")
